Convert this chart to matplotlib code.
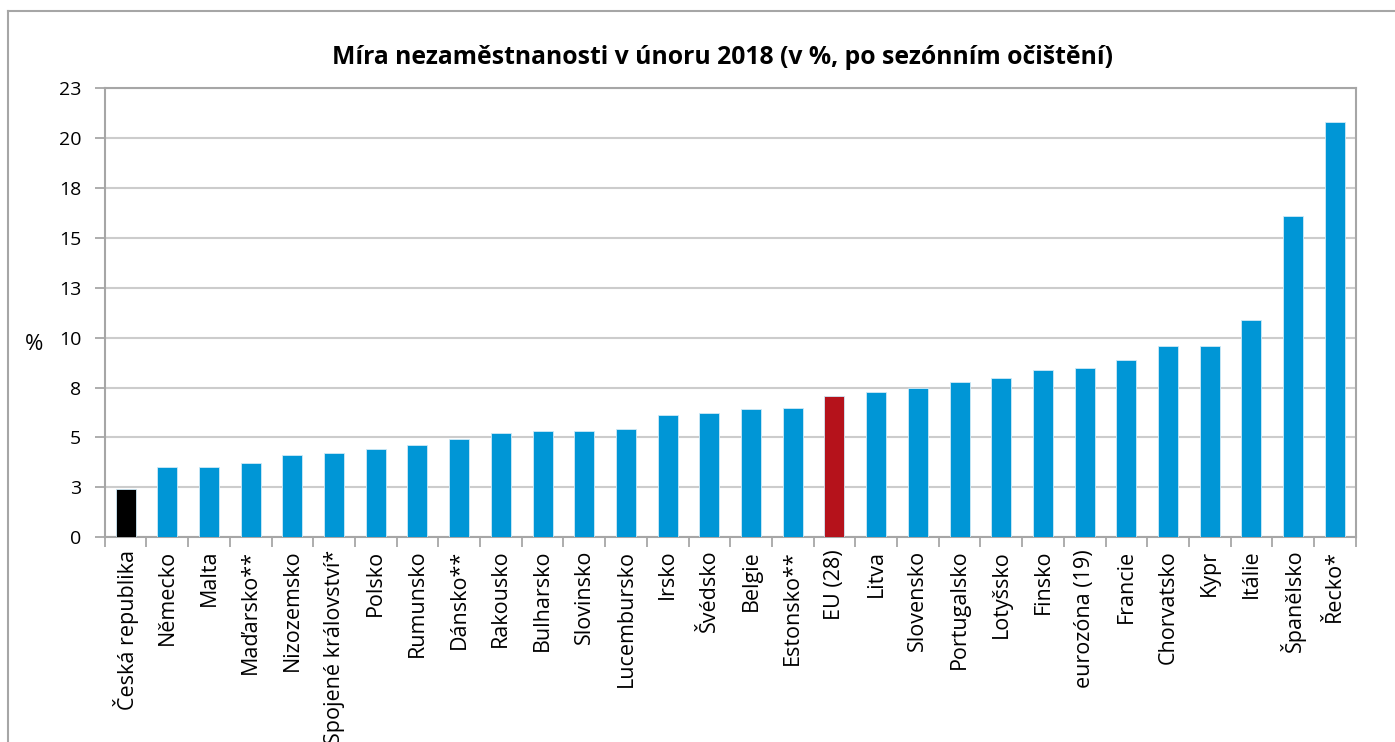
import matplotlib
matplotlib.use("Agg")
import matplotlib.pyplot as plt
from matplotlib.lines import Line2D

categories = ["Česká republika", "Německo", "Malta", "Maďarsko**", "Nizozemsko",
              "Spojené království*", "Polsko", "Rumunsko", "Dánsko**", "Rakousko",
              "Bulharsko", "Slovinsko", "Lucembursko", "Irsko", "Švédsko", "Belgie",
              "Estonsko**", "EU (28)", "Litva", "Slovensko", "Portugalsko", "Lotyšsko",
              "Finsko", "eurozóna (19)", "Francie", "Chorvatsko", "Kypr", "Itálie",
              "Španělsko", "Řecko*"]
values = [2.4, 3.5, 3.5, 3.7, 4.1, 4.2, 4.4, 4.6, 4.9, 5.2,
          5.3, 5.3, 5.4, 6.1, 6.2, 6.4, 6.5, 7.1, 7.3, 7.5,
          7.8, 8.0, 8.4, 8.5, 8.9, 9.6, 9.6, 10.9, 16.1, 20.8]
yticks = [0, 2.5, 5, 7.5, 10, 12.5, 15, 17.5, 20, 22.5]
ytick_labels = ["0", "3", "5", "8", "10", "13", "15", "18", "20", "23"]
title = "Míra nezaměstnanosti v únoru 2018 (v %, po sezónním očištění)"

BLUE = "#0096D6"
RED = "#B5121B"
BLACK = "#000000"
colors = []
for c in categories:
    if c == "Česká republika":
        colors.append(BLACK)
    elif c == "EU (28)":
        colors.append(RED)
    else:
        colors.append(BLUE)

plt.rcParams['font.family'] = ['Open Sans', 'DejaVu Sans']

W, H = 1395, 742
fig = plt.figure(figsize=(W / 100, H / 100), dpi=100)
ax = fig.add_axes([104.7 / W, 1 - 537.3 / H, (1355.7 - 104.7) / W, (537.3 - 88) / H])

x = list(range(len(categories)))
ax.bar(x, values, width=0.48, color=colors, edgecolor="#cfeaf7", linewidth=0.6, zorder=3)

ax.set_xlim(-0.5, len(categories) - 0.5)
ax.set_ylim(0, 22.5)
ax.set_yticks(yticks)
ax.set_yticklabels(ytick_labels, fontsize=14)
ax.set_xticks(x)
ax.set_xticklabels(categories, rotation=90, fontsize=15.5, va="top", ha="center")
ax.tick_params(axis="x", length=0, pad=9)
ax.set_xticks([i - 0.5 for i in range(len(categories) + 1)], minor=True)
ax.tick_params(axis="x", which="minor", length=7, color="#a0a0a0", width=1.2)
ax.tick_params(axis="y", length=7, color="#a0a0a0", width=1.2, pad=10)
ax.yaxis.grid(True, color="#cccccc", linewidth=1.5, zorder=0)
ax.set_axisbelow(True)
for s in ax.spines.values():
    s.set_color("#a6a6a6")
    s.set_linewidth(1.5)

fig.text(34 / W, 1 - 344 / H, "%", fontsize=16, ha="center", va="center")
fig.text(723 / W, 1 - 57 / H, title, fontsize=17.8, fontweight="bold", ha="center", va="center")

# outer chart border
fig.add_artist(Line2D([8 / W, 8 / W], [0, 1 - 11 / H], transform=fig.transFigure,
                      color="#a6a6a6", linewidth=1.5))
fig.add_artist(Line2D([8 / W, 1], [1 - 11 / H, 1 - 11 / H], transform=fig.transFigure,
                      color="#a6a6a6", linewidth=1.5))

fig.savefig("out.png", dpi=100)
